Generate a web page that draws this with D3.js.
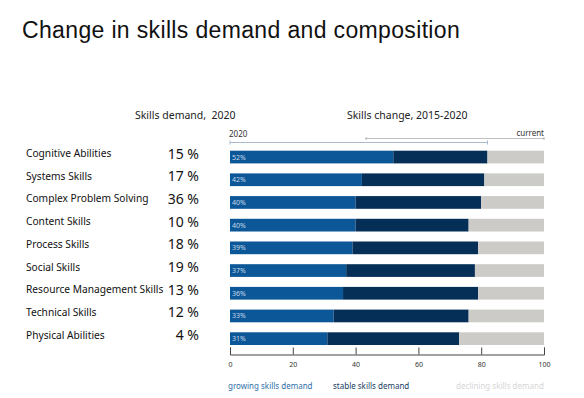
<!DOCTYPE html>
<meta charset="utf-8">
<script src="https://cdn.jsdelivr.net/npm/d3@7"></script>
<style>
body { margin: 0; background: #fff; }
text { font-family: "Noto Sans", sans-serif; }
.title { font-family: "Liberation Sans", Arial, sans-serif; }
</style>
<body>
<script>
  // skills, left column values and stacked shares
  var skills = ["Cognitive Abilities", "Systems Skills", "Complex Problem Solving", "Content Skills",
    "Process Skills", "Social Skills", "Resource Management Skills", "Technical Skills", "Physical Abilities"];
  var demand2020 = [15, 17, 36, 10, 18, 19, 13, 12, 4];
  var growing = [52, 42, 40, 40, 39, 37, 36, 33, 31];
  var stable = [30, 39, 40, 36, 40, 41, 43, 43, 42];
  var declining = [18, 19, 20, 24, 21, 22, 21, 24, 27];
  var xTicks = [0, 20, 40, 60, 80, 100];
  var legendLabels = ["growing skills demand", "stable skills demand", "declining skills demand"];

  var colors = ["#0b5797", "#062f58", "#cdcbc8"];
  var legendColors = ["#2f6fa8", "#173d63", "#d6d6d6"];

  var width = 584, height = 398;
  var svg = d3.select("body").append("svg")
    .attr("width", width)
    .attr("height", height);

  var x = d3.scaleLinear().domain([0, 100]).range([230, 544]);
  var y = d3.scaleBand().domain(skills).range([145.7, 350]).paddingInner(0.44).paddingOuter(0.22);

  // title
  svg.append("text")
    .attr("class", "title")
    .attr("x", 22).attr("y", 38)
    .attr("font-size", "23px")
    .attr("letter-spacing", "0.35px")
    .attr("fill", "#111")
    .text("Change in skills demand and composition");

  // column headers
  svg.append("text")
    .attr("x", 135).attr("y", 119)
    .attr("font-size", "10.5px").attr("fill", "#222")
    .attr("xml:space", "preserve")
    .text("Skills demand,  2020");
  svg.append("text")
    .attr("x", 347).attr("y", 119)
    .attr("font-size", "10.5px").attr("fill", "#222")
    .text("Skills change, 2015-2020");

  // left labels
  var rows = svg.append("g");
  rows.selectAll(".lbl")
    .data(skills).enter().append("text")
    .attr("x", 26)
    .attr("y", function(d) { return y(d) + y.bandwidth() / 2; })
    .attr("font-size", "10.2px").attr("fill", "#111")
    .text(function(d) { return d; });
  rows.selectAll(".val")
    .data(demand2020).enter().append("text")
    .attr("x", 199)
    .attr("y", function(d, i) { return y(skills[i]) + y.bandwidth() / 2 + 1.5; })
    .attr("text-anchor", "end")
    .attr("font-size", "14px").attr("fill", "#111")
    .text(function(d) { return d + " %"; });

  // stacked bars
  var table = skills.map(function(s, i) {
    return {skill: s, growing: growing[i], stable: stable[i], declining: declining[i]};
  });
  var stack = d3.stack().keys(["growing", "stable", "declining"]);
  var series = stack(table);

  svg.selectAll(".series")
    .data(series).enter().append("g")
    .attr("fill", function(d, i) { return colors[i]; })
    .selectAll("rect")
    .data(function(d) { return d; }).enter().append("rect")
    .attr("x", function(d) { return x(d[0]); })
    .attr("y", function(d) { return y(d.data.skill); })
    .attr("width", function(d) { return x(d[1]) - x(d[0]); })
    .attr("height", y.bandwidth());

  svg.selectAll(".pct")
    .data(table).enter().append("text")
    .attr("x", x(0) + 2)
    .attr("y", function(d) { return y(d.skill) + y.bandwidth() / 2 + 2.5; })
    .attr("font-size", "7px").attr("fill", "#c9d8ea")
    .text(function(d) { return d.growing + "%"; });

  // bracket lines on top
  var yr = svg.append("g");
  yr.append("text").attr("x", 229).attr("y", 137)
    .attr("font-size", "8px").attr("fill", "#333").text("2020");
  yr.append("text").attr("x", 544).attr("y", 136).attr("text-anchor", "end")
    .attr("font-size", "8px").attr("fill", "#333").text("current");
  var gEnd = x(growing[0] + stable[0]);
  yr.append("line").attr("x1", x(0)).attr("x2", gEnd).attr("y1", 142.5).attr("y2", 142.5)
    .attr("stroke", "#aabbd0").attr("stroke-width", 1);
  [x(0), gEnd].forEach(function(p) {
    yr.append("line").attr("x1", p).attr("x2", p).attr("y1", 140.5).attr("y2", 144.5)
      .attr("stroke", "#aabbd0");
  });
  yr.append("line").attr("x1", 366).attr("x2", x(100)).attr("y1", 138.5).attr("y2", 138.5)
    .attr("stroke", "#b0b0b0").attr("stroke-width", 0.8);
  [366, x(100)].forEach(function(p) {
    yr.append("line").attr("x1", p).attr("x2", p).attr("y1", 137).attr("y2", 140)
      .attr("stroke", "#b0b0b0");
  });

  // x axis
  var axis = svg.append("g")
    .attr("transform", "translate(0,354.5)")
    .call(d3.axisTop(x).tickValues(xTicks).tickSize(7).tickFormat(d3.format("d")));
  axis.select(".domain").attr("stroke", "#444");
  axis.selectAll(".tick line").attr("stroke", "#444");
  axis.selectAll(".tick text")
    .attr("y", 12).attr("dy", 0)
    .attr("font-size", "7px").attr("fill", "#333")
    .attr("font-family", "Noto Sans, sans-serif");

  // legend
  var legendX = [228, 333, 456];
  svg.selectAll(".legend")
    .data(legendLabels).enter().append("text")
    .attr("x", function(d, i) { return legendX[i]; })
    .attr("y", 389)
    .attr("font-size", "8px")
    .attr("fill", function(d, i) { return legendColors[i]; })
    .text(function(d) { return d; });
</script>
</body>
</html>
